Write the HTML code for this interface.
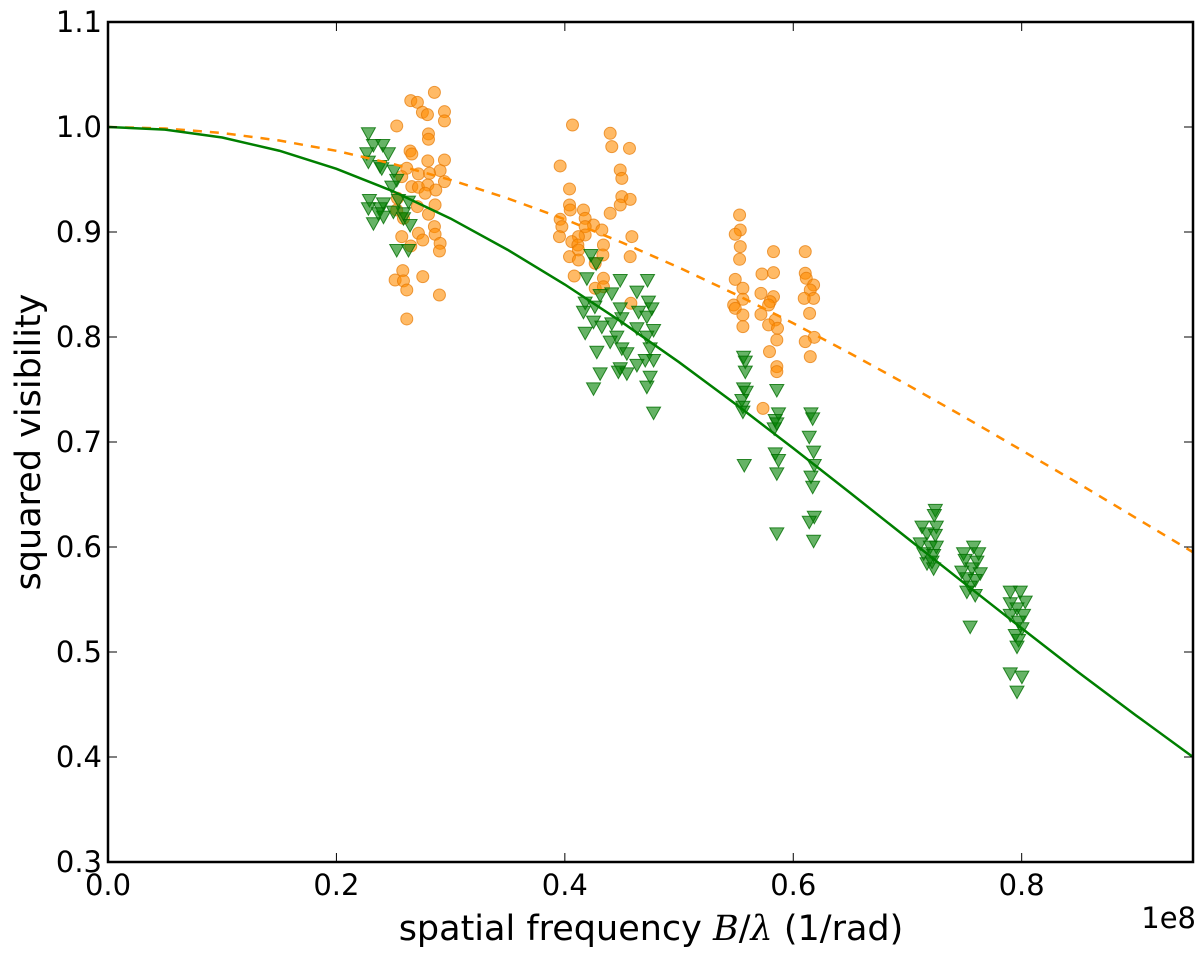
<!DOCTYPE html>
<html><head><meta charset="utf-8"><style>
html,body{margin:0;padding:0;background:#fff;}
svg text{font-family:"DejaVu Sans","Liberation Sans",sans-serif;}
</style></head><body>
<svg id="chart" width="1200" height="953" xmlns="http://www.w3.org/2000/svg">
<rect width="1200" height="953" fill="#fff"/>
<g id="marks"></g>
<g id="axes"></g>
</svg>
<script>
const curveX=[0,0.05,0.1,0.15,0.2,0.25,0.3,0.35,0.4,0.45,0.5,0.55,0.6,0.65,0.7,0.75,0.8,0.85,0.9,0.95];
const greenModel=[1,.9975,.990,.9774,.9602,.9386,.9128,.8830,.8500,.8141,.7760,.7357,.6940,.6514,.6083,.5653,.5226,.4804,.4397,.400];
const orangeModel=[1,.9986,.9943,.9871,.9773,.9647,.9496,.9320,.9121,.8900,.8661,.8404,.8131,.7843,.7544,.7237,.6921,.6603,.6277,.595];
const orangeX=[.2858,.2651,.2709,.2753,.2797,.2946,.2946,.2528,.2806,.2806,.2645,.2660,.2800,.2946,.2908,.2616,.2718,.2815,.2946,.2572,.2660,.2718,.2800,.2777,.2870,.2534,.2709,.2864,.2528,.2806,.2587,.2858,.2864,.2718,.2756,.2572,.2908,.2651,.2902,.2581,.2514,.2587,.2756,.2616,.2902,.2616,
.4067,.4397,.4411,.4566,.3959,.4485,.4499,.4041,.4499,.4572,.4485,.4041,.4047,.4163,.4397,.3959,.4178,.3974,.4251,.4324,.4178,.3953,.4178,.4119,.4587,.4061,.4114,.4338,.4119,.4333,.4041,.4119,.4572,.4266,.4082,.4338,.4266,.4338,.4578,
.5530,.5536,.5492,.5536,.5530,.5827,.6105,.5726,.5827,.6105,.5492,.6114,.5559,.6178,.6149,.5717,.5827,.6178,.6096,.5559,.5798,.5478,.5492,.5784,.5559,.5717,.6143,.5842,.5784,.5862,.5559,.6184,.5856,.6105,.5792,.6149,.5856,.5856,.5735];
const orangeY=[1.033,1.0251,1.0235,1.0140,1.0118,1.0146,1.0058,1.0010,.9934,.9883,.9772,.9743,.9677,.9686,.9585,.9607,.9553,.9559,.9480,.9527,.9432,.9426,.9448,.9369,.9400,.9321,.9242,.9258,.9210,.9169,.9131,.9051,.8978,.8988,.8924,.8956,.8892,.8867,.8819,.8632,.8543,.8534,.8575,.8448,.8400,.8172,
1.0019,.9940,.9813,.9797,.9629,.9591,.9511,.9410,.9337,.9311,.9257,.9257,.9210,.9210,.9178,.9121,.9130,.9051,.9067,.9019,.9051,.8956,.8972,.8956,.8956,.8908,.8876,.8876,.8829,.8781,.8765,.8733,.8765,.8702,.8581,.8559,.8464,.8479,.8321,
.9162,.9019,.8978,.8861,.8740,.8813,.8813,.8600,.8613,.8607,.8549,.8559,.8464,.8495,.8448,.8416,.8384,.8368,.8368,.8359,.8337,.8305,.8273,.8305,.8210,.8216,.8225,.8162,.8115,.8083,.8099,.7997,.7972,.7956,.7861,.7813,.7718,.7670,.7320];
const greenX=[.2280,.2324,.2406,.2266,.2455,.2280,.2382,.2505,.2397,.2528,.2485,.2289,.2412,.2280,.2382,.2543,.2631,.2324,.2412,.2587,.2645,.2528,.2631,.2587,.2499,.2368,
.4228,.4274,.4193,.4485,.4724,.4631,.4411,.4309,.4178,.4732,.4263,.4485,.4762,.4163,.4646,.4499,.4718,.4251,.4411,.4324,.4631,.4777,.4178,.4455,.4718,.4397,.4499,.4280,.4747,.4543,.4704,.4777,.4631,.4485,.4469,.4543,.4309,.4747,.4718,.4251,.4777,
.5565,.5580,.5580,.5565,.5588,.5550,.5559,.5559,.5856,.5871,.5842,.5833,.5856,.6155,.6170,.6140,.6178,.5842,.5871,.5856,.6184,.6155,.6170,.5571,.6184,.6140,.5856,.6178,
.7244,.7235,.7127,.7253,.7171,.7244,.7112,.7200,.7253,.7142,.7229,.7171,.7229,.7215,
.7579,.7491,.7623,.7505,.7608,.7564,.7476,.7637,.7520,.7593,.7549,.7593,.7520,.7549,
.7900,.7988,.8031,.7900,.7959,.8016,.7900,.7973,.8002,.7944,.7973,.7959,.7900,.8002,.7959];
const greenY=[.9940,.9829,.9829,.9750,.9750,.9670,.9629,.9585,.9607,.9496,.9432,.9305,.9273,.9226,.9226,.9305,.9289,.9083,.9146,.9131,.9067,.8829,.8829,.9178,.9194,.9178,
.8781,.8702,.8559,.8543,.8543,.8432,.8416,.8400,.8327,.8337,.8289,.8273,.8273,.8241,.8241,.8178,.8194,.8146,.8130,.8099,.8083,.8067,.8041,.8003,.8003,.7956,.7892,.7860,.7892,.7845,.7781,.7781,.7734,.7702,.7670,.7654,.7654,.7622,.7527,.7511,.7280,
.7812,.7765,.7670,.7511,.7479,.7400,.7336,.7289,.7495,.7273,.7209,.7130,.7177,.7273,.7225,.7050,.6908,.6892,.6828,.6701,.6781,.6670,.6574,.6781,.6288,.6241,.6130,.6060,
.6353,.6305,.6194,.6194,.6130,.6115,.6035,.6003,.6003,.5940,.5924,.5845,.5797,.5861,
.6003,.5940,.5940,.5877,.5861,.5797,.5765,.5750,.5702,.5686,.5623,.5543,.5575,.5242,
.5575,.5575,.5480,.5464,.5416,.5353,.5353,.5289,.5226,.5162,.5115,.5051,.4797,.4765,.4623];
const xTicks=[0,0.2,0.4,0.6,0.8];
const xTickLabels=["0.0","0.2","0.4","0.6","0.8"];
const yTicks=[0.3,0.4,0.5,0.6,0.7,0.8,0.9,1.0,1.1];
const yTickLabels=["0.3","0.4","0.5","0.6","0.7","0.8","0.9","1.0","1.1"];

const L=108,R=1193,T=22,B=862,XMAX=0.95,YMIN=0.3,YMAX=1.1;
const sx=v=>L+v/XMAX*(R-L);
const sy=v=>B-(v-YMIN)/(YMAX-YMIN)*(B-T);
const NS='http://www.w3.org/2000/svg';
const marks=document.getElementById('marks'),axes=document.getElementById('axes');
function mk(tag,attrs,parent){const e=document.createElementNS(NS,tag);for(const k in attrs)e.setAttribute(k,attrs[k]);parent.appendChild(e);return e;}

const clip=mk('clipPath',{id:'pc'},marks);mk('rect',{x:L,y:T,width:R-L,height:B-T},clip);
const g=mk('g',{'clip-path':'url(#pc)'},marks);

for(let i=0;i<orangeX.length;i++){
 const c=mk('circle',{cx:sx(orangeX[i]),cy:sy(orangeY[i]),r:6,fill:'rgba(255,140,0,0.6)',stroke:'rgba(230,120,0,0.7)','stroke-width':1},g);
 
 
}
for(let i=0;i<greenX.length;i++){
 const x=sx(greenX[i]),y=sy(greenY[i]);
 const p=mk('polygon',{points:`${x-7},${y-5.5} ${x+7},${y-5.5} ${x},${y+7}`,fill:'rgba(0,128,0,0.6)',stroke:'rgba(0,110,0,0.8)','stroke-width':1},g);
 
 
}
const gp=curveX.map((x,i)=>`${sx(x)},${sy(greenModel[i])}`).join(' ');
const op=curveX.map((x,i)=>`${sx(x)},${sy(orangeModel[i])}`).join(' ');
const ol=mk('polyline',{points:op,fill:'none',stroke:'#ff8c00','stroke-width':2.5,'stroke-dasharray':'9,8'},g);


const gl=mk('polyline',{points:gp,fill:'none',stroke:'#007f00','stroke-width':2.5},g);



const frame=mk('rect',{x:L,y:T,width:R-L,height:B-T,fill:'none',stroke:'#000','stroke-width':2.5},axes);


xTicks.forEach((v,i)=>{
 const x=sx(v);
 mk('line',{x1:x,y1:B,x2:x,y2:B-9,stroke:'#000','stroke-width':1},axes);
 mk('line',{x1:x,y1:T,x2:x,y2:T+9,stroke:'#000','stroke-width':1},axes);
 const t=mk('text',{x:x,y:B+33,'font-size':29,'text-anchor':'middle',fill:'#000'},axes);
 t.textContent=xTickLabels[i];
 
 
});
yTicks.forEach((v,i)=>{
 const y=sy(v);
 mk('line',{x1:L,y1:y,x2:L+9,y2:y,stroke:'#000','stroke-width':1},axes);
 mk('line',{x1:R,y1:y,x2:R-9,y2:y,stroke:'#000','stroke-width':1},axes);
 const t=mk('text',{x:L-6,y:y+10,'font-size':29,'text-anchor':'end',fill:'#000'},axes);
 t.textContent=yTickLabels[i];
 
 
});
</script>
<script>
(function(){
const NS='http://www.w3.org/2000/svg',axes=document.getElementById('axes');
const off=document.createElementNS(NS,'text');
off.setAttribute('x',1196);off.setAttribute('y',928);off.setAttribute('font-size',29);off.setAttribute('text-anchor','end');
off.textContent='1e8';


axes.appendChild(off);
const xl=document.createElementNS(NS,'text');
xl.setAttribute('x',651);xl.setAttribute('y',940);xl.setAttribute('font-size',35);xl.setAttribute('text-anchor','middle');
xl.innerHTML='spatial frequency <tspan font-family="DejaVu Serif, Liberation Serif, serif" font-style="italic">B</tspan>/<tspan font-family="DejaVu Serif, Liberation Serif, serif" font-style="italic">λ</tspan> (1/rad)';


axes.appendChild(xl);
const yl=document.createElementNS(NS,'text');
yl.setAttribute('x',0);yl.setAttribute('y',0);yl.setAttribute('font-size',35);yl.setAttribute('text-anchor','middle');
yl.setAttribute('transform','translate(40,442) rotate(-90)');
yl.textContent='squared visibility';


axes.appendChild(yl);
})();
</script>
</body></html>
